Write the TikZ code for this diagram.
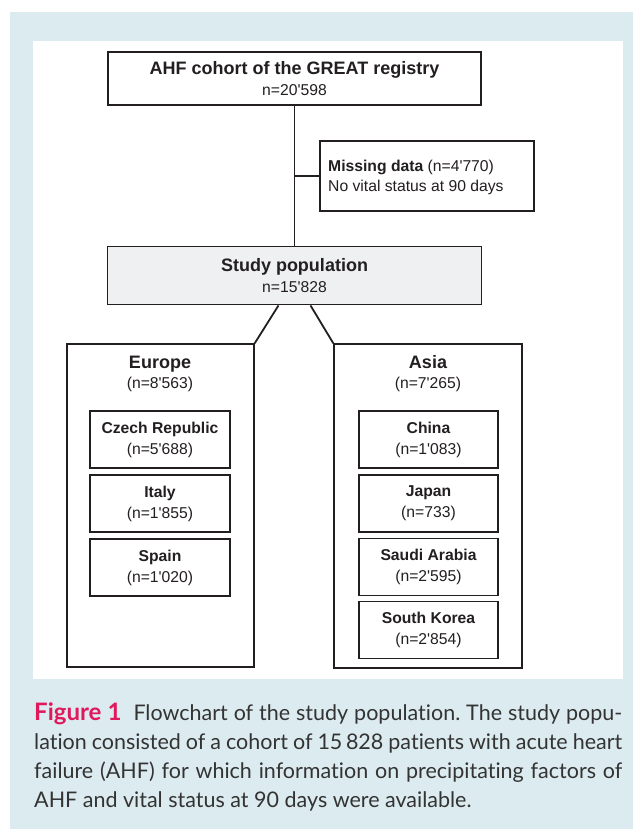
\documentclass[tikz,border=0pt]{standalone}
\usepackage{fontspec}
\setmainfont{Liberation Sans}[Ligatures=TeXOff]
\newfontfamily\capfont{Lato}[Ligatures=NoCommon]
\definecolor{bgblue}{HTML}{DCEBEF}
\definecolor{boxline}{HTML}{231F20}
\definecolor{studyfill}{HTML}{EFF0F2}
\definecolor{figpink}{HTML}{E0195C}
\definecolor{captext}{HTML}{333333}
\newcommand{\hd}{\bfseries\fontsize{18}{20}\selectfont}
\newcommand{\cb}{\bfseries\fontsize{15.7}{20}\selectfont}
\begin{document}
\begin{tikzpicture}[x=1pt,y=1pt,
  box/.style={draw=boxline, line width=1.9pt, inner sep=0pt, align=center, text=boxline,
    font=\fontsize{15.7}{21}\selectfont},
  region/.style={box, line width=1.4pt},
  conn/.style={draw=boxline, line width=1.8pt},
  lbl/.style={inner sep=0pt, align=center, text=boxline, font=\fontsize{15.7}{20}\selectfont}]
\useasboundingbox (0,0) rectangle (633,-829);
\fill[bgblue] (10,-12) rectangle (633,-829);
\fill[white] (33,-41) rectangle (623,-679);

% top box
\node[box, minimum width=373, minimum height=53] (top) at (294.5,-78.5)
  {{\hd AHF cohort of the GREAT registry}\\n=20'598};
% missing data
\node[box, minimum width=214, minimum height=70] (miss) at (427,-176) {};
\node[lbl, anchor=west, align=left] (missT) at (328,-177)
  {{\cb Missing data} (n=4'770)\\No vital status at 90 days};
% study population
\node[box, fill=studyfill, minimum width=374, minimum height=58] (study) at (294.5,-275.5)
  {{\hd Study population}\\n=15'828};

% region boxes
\node[region, minimum width=187, minimum height=323] (eur) at (160.5,-505.5) {};
\node[region, minimum width=188, minimum height=324] (asia) at (428,-506) {};
\node[lbl] (eurT) at (160,-374) {{\hd Europe}\\(n=8'563)};
\node[lbl] (asiaT) at (428,-374) {{\hd Asia}\\(n=7'265)};

% Europe countries
\node[box, minimum width=140, minimum height=57] (cz) at (160,-439.5) {{\cb Czech Republic}\\(n=5'688)};
\node[box, minimum width=140, minimum height=57] (it) at (160,-503.5) {{\cb Italy}\\(n=1'855)};
\node[box, minimum width=140, minimum height=57] (es) at (160,-567.5) {{\cb Spain}\\(n=1'020)};
% Asia countries
\node[box, minimum width=139, minimum height=57] (cn) at (428.5,-439.5) {{\cb China}\\(n=1'083)};
\node[box, minimum width=139, minimum height=57] (jp) at (428.5,-503.5) {{\cb Japan}\\(n=733)};
\node[box, minimum width=139, minimum height=57] (sa) at (428.5,-567) {{\cb Saudi Arabia}\\(n=2'595)};
\node[box, minimum width=139, minimum height=57] (kr) at (428.5,-630) {{\cb South Korea}\\(n=2'854)};

% connectors
\draw[conn] (top.south) -- (study.north);
\coordinate (br) at (top.south |- miss.west);
\draw[conn] (br) -- (miss.west);
\draw[conn] ([xshift=-16pt]study.south) -- (eur.north east);
\draw[conn] ([xshift=16pt]study.south) -- (asia.north west);

% caption
\node[anchor=base west, inner sep=0pt, text width=588pt, align=justify, text=captext,
  font=\capfont\fontsize{21.5}{29}\selectfont] (cap) at (34,-720)
  {\frenchspacing{\color{figpink}\bfseries\fontsize{24}{29}\selectfont Figure 1}\ \ Flowchart of the study population. The study popu-\linebreak lation consisted of a cohort of 15\,828 patients with acute heart\linebreak failure (AHF) for which information on precipitating factors of\linebreak AHF and vital status at 90 days were available.};
\end{tikzpicture}
\end{document}
